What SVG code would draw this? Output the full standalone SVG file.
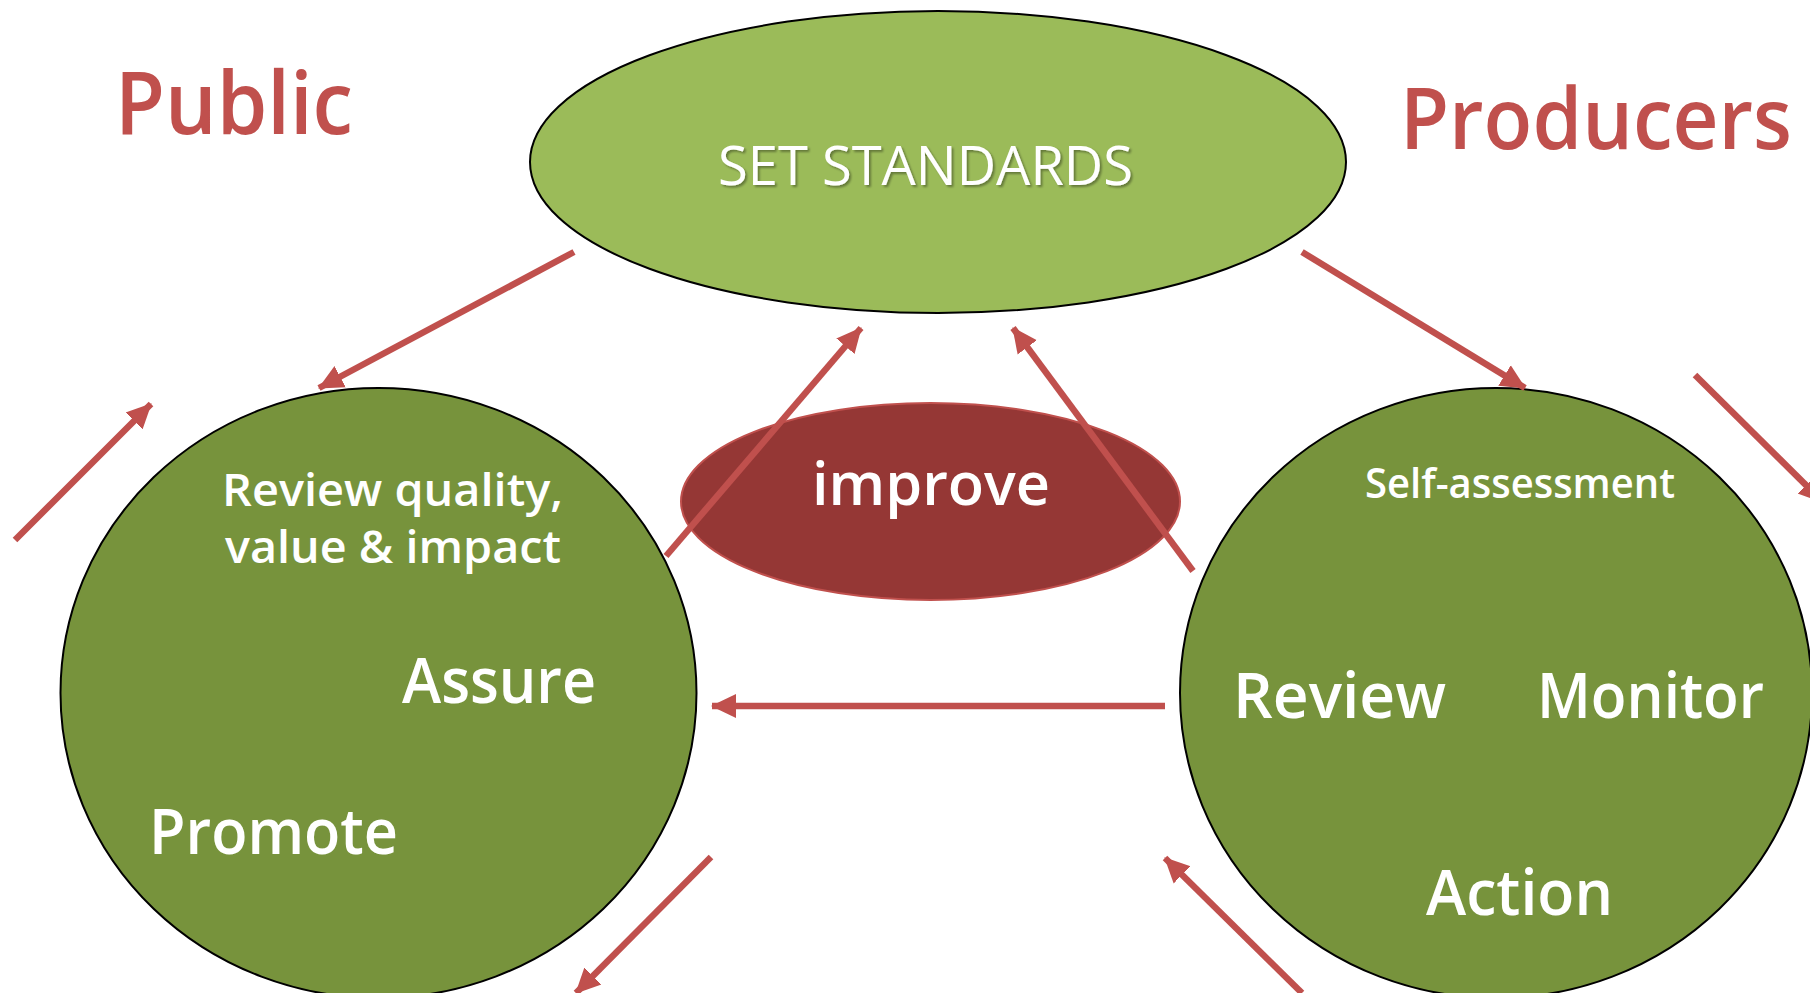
<svg xmlns="http://www.w3.org/2000/svg" width="1810" height="993" viewBox="0 0 1810 993">
<defs>
<marker id="ah" markerUnits="userSpaceOnUse" markerWidth="26" markerHeight="26" viewBox="0 0 26 26" refX="24" refY="13" orient="auto">
<path d="M0,1 L25,13 L0,25 Z" fill="#C0504D"/>
</marker>
<filter id="sh" x="-5%" y="-20%" width="110%" height="140%">
<feGaussianBlur in="SourceAlpha" stdDeviation="1"/>
<feOffset dx="2" dy="2" result="o"/>
<feFlood flood-color="#000" flood-opacity="0.35"/>
<feComposite in2="o" operator="in"/>
<feMerge><feMergeNode/><feMergeNode in="SourceGraphic"/></feMerge>
</filter>
</defs>
<style>
.lbl{font-family:"Open Sans","Noto Sans","DejaVu Sans",sans-serif;fill:#fff;font-weight:600}
.hd{font-family:"Open Sans","Noto Sans","DejaVu Sans",sans-serif;fill:#C0504D;font-weight:600}
.con{stroke:#C0504D;stroke-width:6.5;fill:none;marker-end:url(#ah)}
.grn{stroke:#000;stroke-width:2}
</style>
<rect width="1810" height="993" fill="#fff"/>
<text class="hd" x="115" y="134" font-size="87" textLength="238" lengthAdjust="spacingAndGlyphs">Public</text>
<text class="hd" x="1400" y="149" font-size="85" textLength="392" lengthAdjust="spacingAndGlyphs">Producers</text>
<g id="set-standards">
<ellipse cx="938" cy="162" rx="408" ry="151" fill="#9BBB59" class="grn"/>
<text class="lbl" x="718" y="185" font-size="55" style="font-weight:400" textLength="415" lengthAdjust="spacingAndGlyphs" filter="url(#sh)">SET STANDARDS</text>
</g>
<g id="public-circle">
<ellipse cx="378.5" cy="693" rx="318" ry="305" fill="#77933C" class="grn"/>
<text class="lbl" x="222" y="506" font-size="46" textLength="341" lengthAdjust="spacingAndGlyphs">Review quality,</text>
<text class="lbl" x="225" y="563" font-size="46" textLength="336" lengthAdjust="spacingAndGlyphs">value &amp; impact</text>
<text class="lbl" x="402" y="703" font-size="64" textLength="194" lengthAdjust="spacingAndGlyphs">Assure</text>
<text class="lbl" x="149" y="854" font-size="64" textLength="249" lengthAdjust="spacingAndGlyphs">Promote</text>
</g>
<g id="producers-circle">
<ellipse cx="1496" cy="693" rx="316" ry="305" fill="#77933C" class="grn"/>
<text class="lbl" x="1365" y="498" font-size="42" textLength="310" lengthAdjust="spacingAndGlyphs">Self-assessment</text>
<text class="lbl" x="1233" y="718" font-size="64" textLength="213" lengthAdjust="spacingAndGlyphs">Review</text>
<text class="lbl" x="1537" y="718" font-size="64" textLength="227" lengthAdjust="spacingAndGlyphs">Monitor</text>
<text class="lbl" x="1426" y="915" font-size="64" textLength="187" lengthAdjust="spacingAndGlyphs">Action</text>
</g>
<g id="improve">
<ellipse cx="930.5" cy="501.5" rx="249.5" ry="98.5" fill="#953735" stroke="#C0504D" stroke-width="2"/>
<text class="lbl" x="812" y="505" font-size="59" textLength="238" lengthAdjust="spacingAndGlyphs">improve</text>
</g>
<g id="connectors">
<line class="con" x1="574" y1="252" x2="319" y2="388"/>
<line class="con" x1="15" y1="540" x2="151" y2="404"/>
<line class="con" x1="666" y1="556" x2="861" y2="328"/>
<line class="con" x1="1193" y1="571" x2="1013" y2="328"/>
<line class="con" x1="1302" y1="252" x2="1525" y2="388"/>
<line class="con" x1="1695" y1="375" x2="1823" y2="502"/>
<line class="con" x1="1165" y1="706" x2="712" y2="706"/>
<line class="con" x1="711" y1="857" x2="576" y2="993"/>
<line class="con" x1="1302" y1="993" x2="1165" y2="858"/>
</g>
</svg>
